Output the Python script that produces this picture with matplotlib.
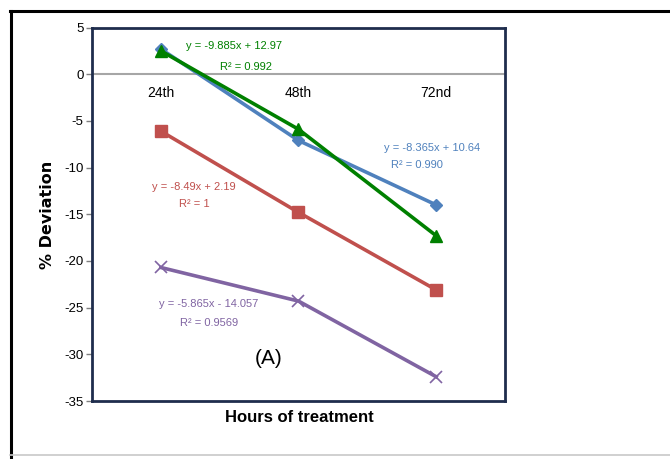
import matplotlib.pyplot as plt
from matplotlib.lines import Line2D

hours = ["24th", "48th", "72nd"]
blue_vals = [2.7, -7.1, -14.0]
green_vals = [2.5, -5.9, -17.3]
red_vals = [-6.1, -14.8, -23.1]
purple_vals = [-20.7, -24.3, -32.4]
y_ticks = [5, 0, -5, -10, -15, -20, -25, -30, -35]

narrow = ["Liberation Sans", "DejaVu Sans"]

fig = plt.figure(figsize=(6.7, 4.59), dpi=100)
ax = fig.add_axes([92 / 670, 1 - 401 / 459, 413 / 670, 373.5 / 459])

x = range(len(hours))
ax.axhline(0, color="#a6a6a6", lw=1.5, zorder=1)
ax.plot(x, blue_vals, color="#4f81bd", lw=2.6, marker="D", ms=6, zorder=3)
ax.plot(x, red_vals, color="#c0504d", lw=2.6, marker="s", ms=8, zorder=3)
ax.plot(x, purple_vals, color="#8064a2", lw=2.6, marker="x", ms=9, mew=1.2, zorder=3)
ax.plot(x, green_vals, color="#008000", lw=2.6, marker="^", ms=9, zorder=4)

ax.set_xlim(-0.5, 2.5)
ax.set_ylim(-35, 5)
ax.set_xticks([])
ax.set_yticks(y_ticks)
ax.set_yticklabels([str(t) for t in y_ticks], family=narrow, fontsize=9.5)
ax.tick_params(axis="y", length=4, width=1, color="#7f7f7f", pad=2)
for s in ax.spines.values():
    s.set_color("#1f2d4d")
    s.set_linewidth(2)

for i, h in enumerate(hours):
    ax.text(i, -2.0, h, ha="center", va="center", family=narrow, fontsize=10)

ann = dict(ha="center", va="center", family=narrow, fontsize=8)
ax.text(0.53, 3.0, "y = -9.885x + 12.97", color="#008000", **ann)
ax.text(0.62, 0.8, "R² = 0.992", color="#008000", **ann)
ax.text(1.97, -7.9, "y = -8.365x + 10.64", color="#4f81bd", **ann)
ax.text(1.86, -9.7, "R² = 0.990", color="#4f81bd", **ann)
ax.text(0.24, -12.1, "y = -8.49x + 2.19", color="#c0504d", **ann)
ax.text(0.24, -13.9, "R² = 1", color="#c0504d", **ann)
ax.text(0.35, -24.6, "y = -5.865x - 14.057", color="#8064a2", **ann)
ax.text(0.35, -26.7, "R² = 0.9569", color="#8064a2", **ann)
ax.text(0.78, -30.4, "(A)", ha="center", va="center", family=narrow, fontsize=15)

fig.text(299 / 670, 1 - 417 / 459, "Hours of treatment", ha="center", va="center",
         family=narrow, fontsize=12, fontweight="bold")
fig.text(48 / 670, 1 - 215 / 459, "% Deviation", ha="center", va="center", rotation=90,
         fontsize=11.5, fontweight="bold")

# outer frame of the pasted figure
fig.add_artist(Line2D([10 / 670, 1], [1 - 11 / 459, 1 - 11 / 459], color="black", lw=2.2))
fig.add_artist(Line2D([11 / 670, 11 / 670], [0, 1 - 11 / 459], color="black", lw=2.2))
fig.add_artist(Line2D([10 / 670, 1], [1 - 455 / 459, 1 - 455 / 459], color="#c8c8c8", lw=1.2))

fig.savefig("out.png", dpi=100)
